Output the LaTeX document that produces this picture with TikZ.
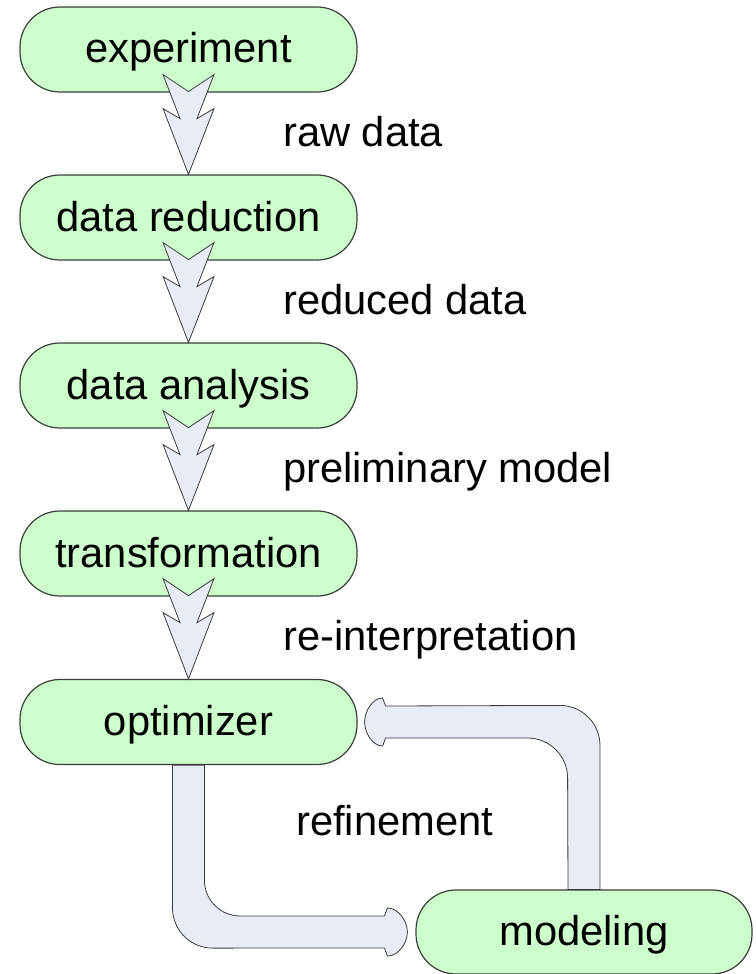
\documentclass[tikz,border=0pt]{standalone}
\usepackage{fontspec}
\setmainfont{Liberation Sans}
\usepackage{tikz}
\definecolor{boxgreen}{RGB}{204,255,204}
\definecolor{arrowblue}{RGB}{231,236,247}
\definecolor{edgegray}{RGB}{60,60,60}
\tikzstyle{stage}=[draw=edgegray, fill=boxgreen, line width=1.2pt, rectangle, rounded corners=40pt,
                   minimum width=337pt, minimum height=85pt, inner sep=0,
                   % Keep the baselines of all box texts at the same height.
                   text height=30pt, text depth=3pt]
\tikzstyle{flowarrow}=[draw=edgegray, fill=arrowblue, line width=0.8pt]
\tikzstyle{note}=[anchor=base west, inner sep=0]
% Notched arrow from the bottom of one stage to the top of the next.
\newcommand{\notcharrow}[2]{%
  \draw[flowarrow, shift={(#1.south)}] (-25.5,-18) -- (0,-1) -- (25.5,-18) -- (8.5,26) -- (25.5,16)
    -- (#2.north) -- (-25.5,16) -- (-8.5,26) -- cycle;}

\begin{document}
\begin{tikzpicture}[x=1pt, y=-1pt, font=\fontsize{41.7}{50}\selectfont]
        \useasboundingbox (0,0) rectangle (755,974);
        \node[stage] (exp) at (188.5, 49.5) {experiment};
        \node[stage] (red) at (188.5, 217.5) {data reduction};
        \node[stage] (ana) at (188.5, 385.5) {data analysis};
        \node[stage] (trans) at (188.5, 553.5) {transformation};
        \node[stage] (opt) at (188.5, 722) {optimizer};
        \node[stage, minimum width=336pt, minimum height=84pt] (mod) at (584, 932) {modeling};
        \node[note] (rawlbl) at (283, 146) {raw data};
        \node[note] (redlbl) at (283, 314) {reduced data};
        \node[note] (prelbl) at (283, 482) {preliminary model};
        \node[note] (relbl) at (283, 650) {re-interpretation};
        \node[note] (reflbl) at (296, 835) {refinement};
        \notcharrow{exp}{red}
        \notcharrow{red}{ana}
        \notcharrow{ana}{trans}
        \notcharrow{trans}{opt}
        % optimizer -> modeling
        \draw[flowarrow] ([xshift=-16pt]opt.south) -- ++(0,143) .. controls +(0,22) and +(-22,0) .. ++(40,40)
            -- ([xshift=-31pt, yshift=-16pt]mod.west) -- ++(3,8)
            .. controls +(11,0) and +(0,11) .. ++(20,-24) .. controls +(0,-11) and +(11,0) .. ++(-20,-24)
            -- ++(-3,8) -- ++(-144,0) .. controls +(-20,0) and +(0,20) .. ++(-36,-36)
            -- ([xshift=16pt]opt.south) -- cycle;
        % modeling -> optimizer
        \draw[flowarrow] ([xshift=16pt]mod.north) -- ++(0,-144) .. controls +(0,-22) and +(22,0) .. ++(-40,-40)
            -- ([xshift=28pt, yshift=16pt]opt.east) -- ++(-3,-8)
            .. controls +(-10,0) and +(0,-11) .. ++(-18,24) .. controls +(0,11) and +(-10,0) .. ++(18,24)
            -- ++(3,-8) -- ++(142,0) .. controls +(22,0) and +(0,-22) .. ++(40,40)
            -- ([xshift=-16pt]mod.north) -- cycle;
    \end{tikzpicture}
\end{document}
